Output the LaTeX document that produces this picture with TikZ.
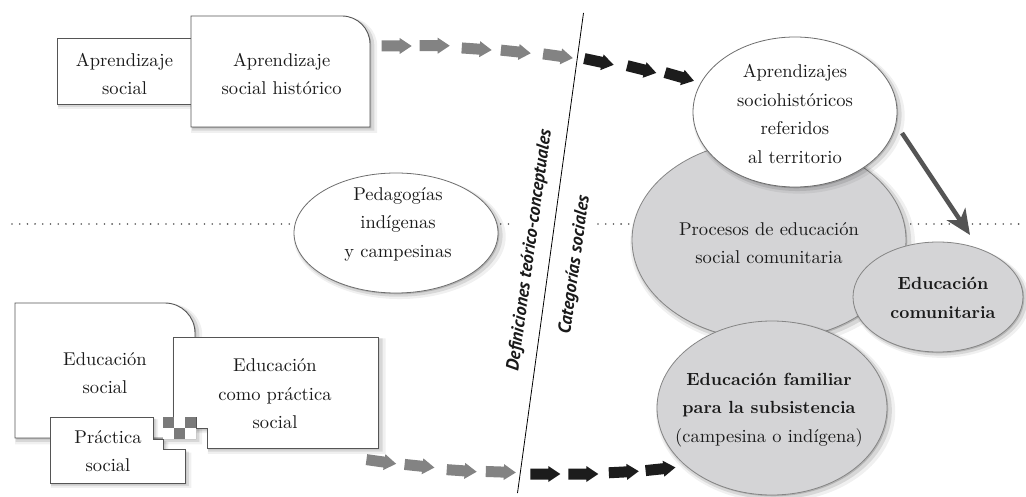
\documentclass[tikz,border=0pt]{standalone}
\usepackage{fontspec}
\setmainfont{lmroman10-regular}[Extension=.otf,BoldFont=lmroman10-bold,ItalicFont=lmroman10-italic,BoldItalicFont=lmroman10-bolditalic]
\newfontfamily\rotfont{PT Sans}
\usetikzlibrary{shapes.geometric,shadows,arrows.meta}
\definecolor{ellgray}{HTML}{D4D4D6}
\definecolor{edgec}{HTML}{555555}
\definecolor{elledge}{HTML}{858585}
\definecolor{arrgray}{HTML}{838383}
\definecolor{arrblack}{HTML}{1C1C1C}
\definecolor{arrdark}{HTML}{545454}
\definecolor{chkc}{HTML}{7A7A7A}
\definecolor{txt}{HTML}{1A1A1A}
\tikzset{
  shad/.style={drop shadow={shadow xshift=3.5pt,shadow yshift=-3.5pt,opacity=.06,shadow scale=1.04,fill=black},
               drop shadow={shadow xshift=2.5pt,shadow yshift=-2.5pt,opacity=.10,shadow scale=1.02,fill=black},
               drop shadow={shadow xshift=1.3pt,shadow yshift=-1.3pt,opacity=.16,fill=black}},
  boxsty/.style={draw=edgec,line width=0.9pt,fill=white,shad},
  ellw/.style={ellipse,draw=edgec!85,line width=0.8pt,fill=white,shad,inner sep=0pt},
  ellg/.style={ellipse,draw=elledge,line width=0.8pt,fill=ellgray,shad,inner sep=0pt},
  lbl/.style={align=center,inner sep=0pt,text=txt},
  boldlbl/.style={font=\fontsize{17.6}{28.5}\selectfont\bfseries},
  rotlbl/.style={font={\rotfont\fontsize{18}{20}\selectfont\bfseries\itshape},inner sep=0pt,text=txt,rotate=82.2},
  dotsty/.style={draw=edgec,line width=1.8pt,line cap=round,dash pattern=on 0pt off 7.7pt},
  blockarr/.pic={\path[pic actions] (-15,-5.5) -- (3,-5.5) -- (3,-8) -- (15,0) -- (3,8) -- (3,5.5) -- (-15,5.5) -- cycle;}
}
\begin{document}
\begin{tikzpicture}[x=1pt,y=-1pt,font=\fontsize{18.5}{28.5}\selectfont]
\useasboundingbox (0,0) rectangle (1026,497);
\fill[white] (0,0) rectangle (1026,497);

% dotted horizontal line
\coordinate (d1) at (12,224); \coordinate (d2) at (330,224);
\coordinate (d3) at (470,224); \coordinate (d4) at (511,224);
\coordinate (d5) at (598,224); \coordinate (d6) at (700,224);
\coordinate (d7) at (880,224); \coordinate (d8) at (1026,224);
\draw[dotsty] (d1) -- (d2);
\draw[dotsty] (d3) -- (d4);
\draw[dotsty] (d5) -- (d6);
\draw[dotsty] (d7) -- (d8);

% slanted divider
\coordinate (ltop) at (583.5,13); \coordinate (lbot) at (517.5,493);
\draw[line width=0.8pt] (ltop) -- (lbot);
\node[rotlbl] (defs) at (530,250) {Definiciones teórico-conceptuales};
\node[rotlbl] (cats) at (575,265) {Categorías sociales};

% top boxes
\path[boxsty] (57,38) rectangle (205,104);
\path[boxsty] (191,127) -- (191,16) -- (342,16) arc[start angle=-90,end angle=0,radius=28] -- (370,127) -- cycle;
\node[lbl] (apst) at (124.5,74) {Aprendizaje\\social};
\node[lbl] (apht) at (281.7,74) {Aprendizaje\\social histórico};

% bottom boxes
\path[boxsty] (15,438) -- (15,303) -- (165,303) arc[start angle=-90,end angle=0,radius=30] -- (195,438) -- cycle;
\path[boxsty] (50,417) -- (153,417) -- (153,439) -- (163,439) -- (163,449) -- (185,449) -- (185,483) -- (50,483) -- cycle;
\path[boxsty] (173,337) -- (378,337) -- (378,448) -- (207,448) -- (207,428) -- (196,428) -- (196,417) -- (173,417) -- cycle;
\fill[chkc] (163,417) rectangle (174,428);
\fill[white] (174,417) rectangle (185,428);
\fill[chkc] (185,417) rectangle (196,428);
\fill[white] (163,428) rectangle (174,439);
\fill[chkc] (174,428) rectangle (185,439);
\fill[white] (185,428) rectangle (196,439);
\node[lbl] (edst) at (105,373) {Educación\\social};
\node[lbl] (edpt) at (275,394) {Educación\\como práctica\\social};
\node[lbl] (prst) at (108,451) {Práctica\\social};

% Pedagogias
\node[ellw,minimum width=204pt,minimum height=120pt] (ped) at (396,233) {};
\node[lbl] (pedt) at (398,224) {Pedagogías\\indígenas\\y campesinas};

% right cluster
\node[ellg,minimum width=274pt,minimum height=200pt] (proc) at (769,240) {};
\node[ellw,minimum width=204pt,minimum height=150pt] (apr) at (795,112) {};
\node[ellg,minimum width=230pt,minimum height=174pt] (fam) at (772,408) {};
\node[ellg,minimum width=170pt,minimum height=110pt] (com) at (938,297) {};
\node[lbl] (aprt) at (795,114) {Aprendizajes\\sociohistóricos\\referidos\\al territorio};
\node[lbl] (proct) at (769,243) {Procesos de educación\\social comunitaria};
\node[lbl] (famt) at (769,410) {{\fontsize{17.6}{28.5}\selectfont\bfseries Educación familiar}\\{\fontsize{17.6}{28.5}\selectfont\bfseries para la subsistencia}\\(campesina o indígena)};
\node[lbl,boldlbl] (comt) at (943,298) {Educación\\comunitaria};

% arrow to Educacion comunitaria
\coordinate (a1) at (902,133); \coordinate (a2) at (970,235);
\draw[line width=4.5pt,draw=arrdark,-{Stealth[length=25pt,width=22pt,inset=7pt]}] (a1) -- (a2);

% block arrows top
\pic[fill=arrgray] at (396.7,46) {blockarr};
\pic[fill=arrgray] at (434.7,45.7) {blockarr};
\pic[fill=arrgray,rotate=-4] at (476.7,49) {blockarr};
\pic[fill=arrgray,rotate=-6] at (515.8,51.7) {blockarr};
\pic[fill=arrgray,rotate=-8] at (558,56) {blockarr};
\pic[fill=arrblack,rotate=-12] at (599,61.7) {blockarr};
\pic[fill=arrblack,rotate=-14] at (641.7,69.3) {blockarr};
\pic[fill=arrblack,rotate=-16] at (679.5,76.7) {blockarr};

% block arrows bottom
\pic[fill=arrgray,rotate=-8] at (381.3,461.7) {blockarr};
\pic[fill=arrgray,rotate=-6] at (419.5,466) {blockarr};
\pic[fill=arrgray,rotate=-4] at (461.7,470.7) {blockarr};
\pic[fill=arrgray,rotate=-2] at (500.8,472) {blockarr};
\pic[fill=arrblack] at (545.3,474) {blockarr};
\pic[fill=arrblack] at (583.3,474) {blockarr};
\pic[fill=arrblack,rotate=3] at (623.8,472) {blockarr};
\pic[fill=arrblack,rotate=6] at (660.5,469) {blockarr};
\end{tikzpicture}
\end{document}
